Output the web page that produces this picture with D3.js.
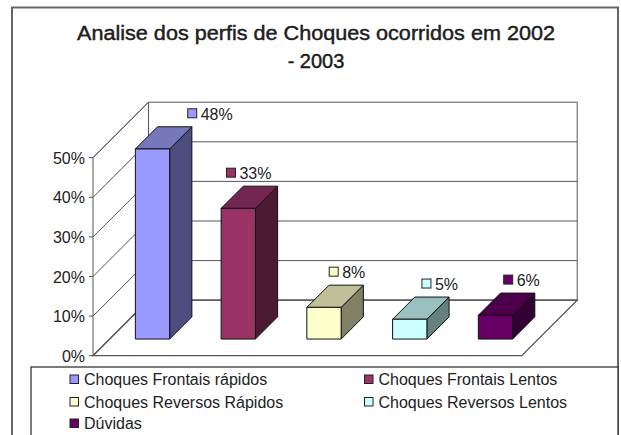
<!DOCTYPE html>
<html lang="en">
<head>
    <meta charset="UTF-8">
    <title>Analise dos perfis de Choques</title>
    <script src="https://cdn.jsdelivr.net/npm/d3@7/dist/d3.min.js"></script>
    <style>
        html, body { margin: 0; padding: 0; background: #fff; overflow: hidden; }
        svg { display: block; }
        text { font-family: "Liberation Sans", Arial, sans-serif; fill: #222; }
    </style>
</head>
<body>
    <div id="chart"></div>
    <script>
        const categories = ['Choques Frontais rápidos', 'Choques Frontais Lentos', 'Choques Reversos Rápidos', 'Choques Reversos Lentos', 'Dúvidas'];
        const values = [48, 33, 8, 5, 6];
        const colors = ['#9999ff', '#993366', '#ffffcc', '#ccffff', '#660066'];
        const topColors = ['#7777bb', '#732650', '#bfbf99', '#99bfbf', '#4c004c'];
        const sideColors = ['#4d4d80', '#4d1a33', '#808066', '#668080', '#330033'];
        const yTicks = [0, 10, 20, 30, 40, 50];
        const titleLines = ['Analise dos perfis de Choques ocorridos em 2002', '- 2003'];

        const width = 621, height = 435;
        const svg = d3.select('#chart').append('svg').attr('width', width).attr('height', height);
        const line = '#555';

        // front plane of the box, the 3d depth is an offset on top of it
        const y = d3.scaleLinear().domain([0, 50]).range([355.7, 157.7]);
        const x = d3.scaleBand().domain(categories).range([93, 521.7]);
        const depthX = d3.scaleLinear().domain([0, 1]).range([0, 55.5]);
        const depthY = d3.scaleLinear().domain([0, 1]).range([0, -55.5]);
        const barFront = 0.3, barBack = 0.7;
        const barWidth = x.bandwidth() * 0.4;
        // data labels were dragged by hand in the original
        const labelShift = [17, -30, -13, -6, -10];

        const px = (vx, d) => vx + depthX(d);
        const py = (v, d) => y(v) + depthY(d);
        const poly = pts => 'M' + pts.map(p => p.join(',')).join('L') + 'Z';

        // outer frame
        svg.append('rect').attr('x', 12).attr('y', 7.5).attr('width', 606).attr('height', 440)
            .attr('fill', '#fff').attr('stroke', '#666').attr('stroke-width', 2);

        // title
        svg.selectAll('.title').data(titleLines).enter().append('text')
            .attr('class', 'title')
            .attr('x', 316).attr('y', (d, i) => 40 + i * 28)
            .attr('text-anchor', 'middle')
            .attr('font-size', 20).attr('stroke', '#111').attr('stroke-width', 0.4)
            .attr('textLength', (d, i) => i === 0 ? 478 : null)
            .attr('lengthAdjust', 'spacingAndGlyphs')
            .text(d => d);

        // walls and floor
        const x0 = x.range()[0], x1 = x.range()[1];
        const box = svg.append('g').attr('fill', 'none').attr('stroke', line).attr('stroke-width', 1);
        box.append('path').attr('d', poly([[px(x0, 1), py(0, 1)], [px(x1, 1), py(0, 1)], [px(x1, 0), py(0, 0)], [x0, py(0, 0)]]))
            .attr('stroke-width', 1.3);
        box.append('path').attr('d', poly([[x0, py(0, 0)], [x0, py(50, 0)], [px(x0, 1), py(50, 1)], [px(x0, 1), py(0, 1)]]));
        box.append('line').attr('x1', px(x1, 1)).attr('x2', px(x1, 1)).attr('y1', py(0, 1)).attr('y2', py(50, 1));

        yTicks.forEach(t => {
            box.append('line').attr('x1', px(x0, 1)).attr('x2', px(x1, 1)).attr('y1', py(t, 1)).attr('y2', py(t, 1))
                .attr('stroke-width', t === 0 ? 1.3 : 1);
            box.append('line').attr('x1', x0).attr('x2', px(x0, 1)).attr('y1', py(t, 0)).attr('y2', py(t, 1));
            box.append('line').attr('x1', x0 - 4).attr('x2', x0).attr('y1', py(t, 0)).attr('y2', py(t, 0));
        });

        svg.selectAll('.tick-label').data(yTicks).enter().append('text')
            .attr('class', 'tick-label')
            .attr('x', 85).attr('y', d => y(d) + 6)
            .attr('text-anchor', 'end').attr('font-size', 16)
            .text(d => d + '%');

        // bars
        const bars = svg.selectAll('.bar').data(categories).enter().append('g').attr('class', 'bar')
            .attr('stroke', '#111').attr('stroke-width', 1).attr('stroke-linejoin', 'round');
        const left = c => x(c) + (x.bandwidth() - barWidth) / 2;
        bars.append('path').attr('fill', (c, i) => sideColors[i]).attr('d', (c, i) => {
            const r = left(c) + barWidth;
            return poly([[px(r, barFront), py(0, barFront)], [px(r, barBack), py(0, barBack)], [px(r, barBack), py(values[i], barBack)], [px(r, barFront), py(values[i], barFront)]]);
        });
        bars.append('path').attr('fill', (c, i) => topColors[i]).attr('d', (c, i) => {
            const l = left(c), r = l + barWidth, v = values[i];
            return poly([[px(l, barFront), py(v, barFront)], [px(r, barFront), py(v, barFront)], [px(r, barBack), py(v, barBack)], [px(l, barBack), py(v, barBack)]]);
        });
        bars.append('rect').attr('fill', (c, i) => colors[i])
            .attr('x', c => px(left(c), barFront))
            .attr('y', (c, i) => py(values[i], barFront))
            .attr('width', barWidth)
            .attr('height', (c, i) => py(0, barFront) - py(values[i], barFront));

        // data labels with their small keys
        const labels = svg.selectAll('.data-label').data(categories).enter().append('g').attr('class', 'data-label')
            .attr('transform', (c, i) => `translate(${px(left(c), barBack) + barWidth / 2 + 5 + labelShift[i]},${py(values[i], barBack) - 13})`);
        labels.append('rect').attr('x', -9).attr('y', -5).attr('width', 9).attr('height', 9)
            .attr('fill', (c, i) => colors[i]).attr('stroke', '#222');
        labels.append('text').attr('x', 4).attr('y', 6).attr('font-size', 16).text((c, i) => values[i] + '%');

        // legend
        svg.append('rect').attr('x', 31).attr('y', 367).attr('width', 587).attr('height', 80)
            .attr('fill', '#fff').attr('stroke', '#333').attr('stroke-width', 1.3);
        const legendX = [70, 364.5];
        const legendY = [379, 401.5, 423];
        const legend = svg.selectAll('.legend-item').data(categories).enter().append('g').attr('class', 'legend-item')
            .attr('transform', (c, i) => `translate(${legendX[i % 2]},${legendY[Math.floor(i / 2)]})`);
        legend.append('rect').attr('x', 0).attr('y', -4).attr('width', 8.5).attr('height', 8.5)
            .attr('fill', (c, i) => colors[i]).attr('stroke', '#222');
        legend.append('text').attr('x', 14).attr('y', 6).attr('font-size', 16).text(c => c);
    </script>
</body>
</html>
